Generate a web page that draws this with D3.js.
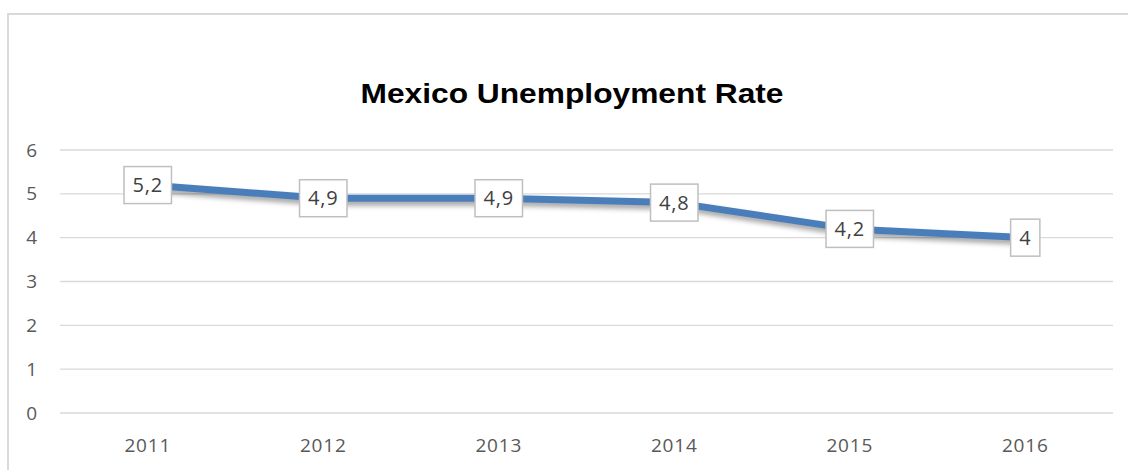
<!DOCTYPE html>
<html>
<head>
<meta charset="utf-8">
<script src="https://cdn.jsdelivr.net/npm/d3@7"></script>
<style>
  html, body { margin: 0; padding: 0; background: #fff; }
  svg { display: block; }
</style>
</head>
<body>
<svg id="chart" width="1128" height="470"></svg>
<script>
// Mexico unemployment rate, percent
const years = ["2011", "2012", "2013", "2014", "2015", "2016"];
const rates = [5.2, 4.9, 4.9, 4.8, 4.2, 4];
const rateLabels = ["5,2", "4,9", "4,9", "4,8", "4,2", "4"];
const yTicks = [0, 1, 2, 3, 4, 5, 6];

const svg = d3.select("#chart");
const plot = { left: 60, right: 1113, top: 150, bottom: 413 };
const font = "'Open Sans', 'Liberation Sans', Arial, sans-serif";

// outer chart frame
svg.append("rect")
  .attr("x", 8).attr("y", 14)
  .attr("width", 1130).attr("height", 470)
  .attr("fill", "#fff")
  .attr("stroke", "#d9d9d9").attr("stroke-width", 2);

// title
svg.append("text")
  .attr("x", 572).attr("y", 103)
  .attr("text-anchor", "middle")
  .attr("font-family", "'Liberation Sans', Arial, sans-serif")
  .attr("font-weight", "bold")
  .attr("font-size", 28)
  .attr("textLength", 423)
  .attr("lengthAdjust", "spacingAndGlyphs")
  .attr("fill", "#000")
  .text("Mexico Unemployment Rate");

const x = d3.scaleBand().domain(years).range([plot.left, plot.right]);
const y = d3.scaleLinear().domain([0, 6]).range([plot.bottom, plot.top]);

// horizontal gridlines
svg.append("g")
  .selectAll("line")
  .data(yTicks)
  .join("line")
  .attr("x1", plot.left).attr("x2", plot.right)
  .attr("y1", d => y(d)).attr("y2", d => y(d))
  .attr("stroke", "#d9d9d9").attr("stroke-width", 1.3);

// y axis labels
const yAxis = d3.axisLeft(y).tickValues(yTicks).tickSize(0).tickPadding(0).tickFormat(d3.format("d"));
svg.append("g")
  .attr("transform", "translate(37,0)")
  .call(yAxis)
  .call(g => g.select(".domain").remove())
  .call(g => g.selectAll("text")
    .attr("font-family", font).attr("font-size", 19).attr("fill", "#595959"));

// x axis labels
const xAxis = d3.axisBottom(x).tickSize(0).tickPadding(0);
svg.append("g")
  .attr("transform", "translate(0,438)")
  .call(xAxis)
  .call(g => g.select(".domain").remove())
  .call(g => g.selectAll("text")
    .attr("font-family", font).attr("font-size", 19)
    .attr("letter-spacing", 0.8).attr("fill", "#595959"));

// line shadow
const defs = svg.append("defs");
defs.append("filter").attr("id", "shadowBlur")
  .attr("x", "-5%").attr("y", "-50%").attr("width", "110%").attr("height", "200%")
  .append("feGaussianBlur").attr("stdDeviation", 2.5);

const line = d3.line()
  .x((d, i) => x(years[i]) + x.bandwidth() / 2)
  .y(d => y(d));

svg.append("path")
  .datum(rates)
  .attr("d", line)
  .attr("transform", "translate(2,4)")
  .attr("fill", "none")
  .attr("stroke", "#000").attr("stroke-opacity", 0.35)
  .attr("stroke-width", 7)
  .attr("filter", "url(#shadowBlur)");

svg.append("path")
  .datum(rates)
  .attr("d", line)
  .attr("fill", "none")
  .attr("stroke", "#4a7ebb")
  .attr("stroke-width", 7)
  .attr("stroke-linejoin", "round");

// data labels in boxes
const labels = svg.append("g")
  .selectAll("g")
  .data(rates)
  .join("g")
  .attr("transform", (d, i) => `translate(${x(years[i]) + x.bandwidth() / 2},${y(d)})`);

labels.each(function(d, i) {
  const g = d3.select(this);
  const t = g.append("text")
    .attr("text-anchor", "middle")
    .attr("dy", "0.36em")
    .attr("font-family", font).attr("font-size", 20)
    .attr("letter-spacing", 0.8)
    .attr("fill", "#404040")
    .text(rateLabels[i]);
  const w = t.node().getComputedTextLength() + 17;
  const h = 37;
  g.insert("rect", "text")
    .attr("x", -w / 2).attr("y", -h / 2)
    .attr("width", w).attr("height", h)
    .attr("fill", "#fff")
    .attr("stroke", "#bfbfbf").attr("stroke-width", 1.5);
});
</script>
</body>
</html>
